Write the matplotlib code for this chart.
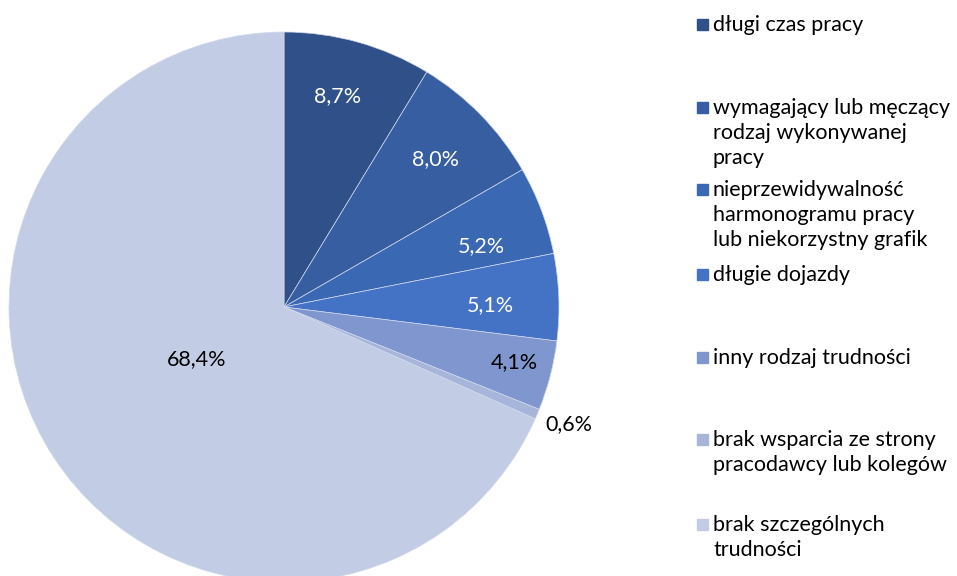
import numpy as np
import matplotlib
matplotlib.use("Agg")
import matplotlib.pyplot as plt
from matplotlib.patches import Rectangle

plt.rcParams['font.family'] = ['Lato', 'DejaVu Sans']

categories = [
    "długi czas pracy",
    "wymagający lub męczący\nrodzaj wykonywanej\npracy",
    "nieprzewidywalność\nharmonogramu pracy\nlub niekorzystny grafik",
    "długie dojazdy",
    "inny rodzaj trudności",
    "brak wsparcia ze strony\npracodawcy lub kolegów",
    "brak szczególnych\ntrudności",
]
values = [8.7, 8.0, 5.2, 5.1, 4.1, 0.6, 68.4]
labels = ["8,7%", "8,0%", "5,2%", "5,1%", "4,1%", "0,6%", "68,4%"]
colors = ["#2F5088", "#365EA0", "#3B68B2", "#4472C4", "#7F96CE", "#A7B5DB", "#C2CCE4"]
label_colors = ["white", "white", "white", "white", "black", "black", "black"]
label_dist = [0.79, 0.77, 0.75, 0.75, 0.86, 1.12, 0.37]
label_angle_shift = [1.5, 0, -3.5, -1.5, 1.0, 0.5, -2]

W, H = 957, 576
fig = plt.figure(figsize=(W / 100, H / 100), dpi=100)
ax = fig.add_axes([0, 0, 1, 1])
cx, cy, R = 284, 307, 275

wedges, _ = ax.pie(values, colors=colors, startangle=90, counterclock=False,
                   radius=1.0, center=(0, 0), frame=True,
                   wedgeprops=dict(edgecolor='#d0d8ec', linewidth=0.5))
ax.set_xlim(-cx / R, (W - cx) / R)
ax.set_ylim(-(H - cy) / R, cy / R)
ax.set_aspect('auto')
ax.axis('off')

total = sum(values)
start = 90.0
for v, lab, c, d, sh in zip(values, labels, label_colors, label_dist, label_angle_shift):
    span = 360.0 * v / total
    mid = start - span / 2 + sh
    start -= span
    a = np.deg2rad(mid)
    ax.text(d * np.cos(a), d * np.sin(a), lab, color=c, fontsize=15.5,
            ha='center', va='center')

# legend
tops = [25, 108, 190, 275, 358, 440, 525]
for cat, col, t in zip(categories, colors, tops):
    fig.patches.append(Rectangle((697 / W, 1 - (t + 5) / H), 11 / W, 11 / H,
                                 transform=fig.transFigure, color=col))
    fig.text(713 / W, 1 - (t - 10) / H, cat, fontsize=15.5, va='top', ha='left',
             linespacing=1.3, color='black')

fig.savefig("out.png", dpi=100)
